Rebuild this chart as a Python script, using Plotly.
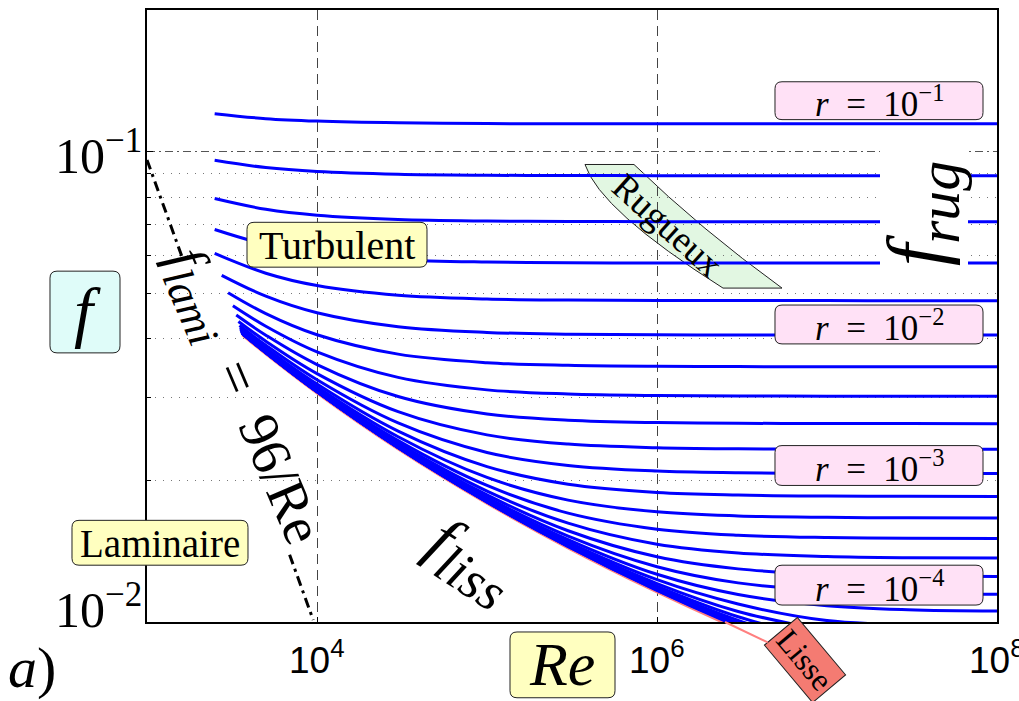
import math
import plotly.graph_objects as go

# ---------------- data ----------------
# relative roughness exponents of the blue family: r = 10**R_EXP
R_EXP = [-1.0, -1.2, -1.4, -1.6, -1.8, -2.0, -2.2, -2.4, -2.6, -2.8, -3.0, -3.2, -3.4,
         -3.6, -3.8, -4.0, -4.2, -4.4, -4.6, -4.8, -5.0, -5.2, -5.4, -5.6, -5.8, -6.0]

# Reynolds grid common to the curves (after each curve's first point)
RE_GRID = [5e3, 1e4, 3e4, 1e5, 3e5, 1e6, 3e6, 1e7, 3e7, 1e8]

# first point of each curve
RE_START = [2500, 2500, 2500, 2500, 2500, 2750, 3000, 3200, 3350, 3450, 3500, 3520, 3540,
            3560, 3580, 3600, 3610, 3620, 3630, 3640, 3645, 3650, 3655, 3660, 3665, 3670]
F_START = [0.1204, 0.09587, 0.07946, 0.06830, 0.06074, 0.05458, 0.05012, 0.04702, 0.04492,
           0.04354, 0.04269, 0.04219, 0.04185, 0.04161, 0.04143, 0.04130, 0.04120, 0.04116,
           0.04110, 0.04106, 0.04104, 0.04102, 0.04100, 0.04098, 0.04097, 0.04095]

# friction factor of each curve on RE_GRID
F_CURVES = [
    [0.1175, 0.1161, 0.1151, 0.1147, 0.1146, 0.1146, 0.1146, 0.1146, 0.1146, 0.1146],
    [0.09247, 0.09069, 0.08949, 0.08906, 0.08894, 0.08889, 0.08888, 0.08888, 0.08888, 0.08888],
    [0.07538, 0.07322, 0.07172, 0.07118, 0.07103, 0.07098, 0.07096, 0.07095, 0.07095, 0.07095],
    [0.06349, 0.06082, 0.05893, 0.05825, 0.05805, 0.05797, 0.05795, 0.05794, 0.05794, 0.05794],
    [0.05513, 0.05190, 0.04950, 0.04861, 0.04835, 0.04825, 0.04823, 0.04822, 0.04821, 0.04821],
    [0.04929, 0.04544, 0.04244, 0.04127, 0.04092, 0.04080, 0.04076, 0.04075, 0.04074, 0.04074],
    [0.04525, 0.04080, 0.03711, 0.03559, 0.03512, 0.03495, 0.03491, 0.03489, 0.03488, 0.03488],
    [0.04253, 0.03752, 0.03311, 0.03115, 0.03053, 0.03030, 0.03023, 0.03021, 0.03020, 0.03020],
    [0.04071, 0.03526, 0.03015, 0.02768, 0.02685, 0.02654, 0.02645, 0.02642, 0.02641, 0.02640],
    [0.03952, 0.03373, 0.02800, 0.02499, 0.02389, 0.02347, 0.02334, 0.02330, 0.02329, 0.02328],
    [0.03875, 0.03272, 0.02649, 0.02293, 0.02152, 0.02094, 0.02077, 0.02070, 0.02069, 0.02068],
    [0.03825, 0.03206, 0.02546, 0.02140, 0.01963, 0.01886, 0.01862, 0.01853, 0.01850, 0.01849],
    [0.03793, 0.03163, 0.02476, 0.02029, 0.01816, 0.01715, 0.01681, 0.01669, 0.01665, 0.01664],
    [0.03774, 0.03136, 0.02430, 0.01951, 0.01704, 0.01575, 0.01529, 0.01512, 0.01507, 0.01505],
    [0.03762, 0.03118, 0.02400, 0.01898, 0.01622, 0.01463, 0.01402, 0.01378, 0.01370, 0.01368],
    [0.03753, 0.03107, 0.02382, 0.01863, 0.01563, 0.01376, 0.01297, 0.01263, 0.01253, 0.01249],
    [0.03748, 0.03100, 0.02370, 0.01840, 0.01523, 0.01311, 0.01211, 0.01165, 0.01151, 0.01145],
    [0.03744, 0.03096, 0.02362, 0.01825, 0.01497, 0.01263, 0.01144, 0.01083, 0.01062, 0.01055],
    [0.03743, 0.03093, 0.02357, 0.01815, 0.01478, 0.01230, 0.01092, 0.01007, 0.00986, 0.00975],
    [0.03741, 0.03092, 0.02354, 0.01810, 0.01467, 0.01207, 0.01053, 0.00959],
    [0.03741, 0.03090, 0.02352, 0.01806, 0.01459, 0.01192, 0.01026, 0.00916],
    [0.03740, 0.03089, 0.02350, 0.01803, 0.01454, 0.01182, 0.01008, 0.00883],
    [0.03740, 0.03089, 0.02350, 0.01802, 0.01452, 0.01176, 0.00995, 0.00859],
    [0.03739, 0.03089, 0.02349, 0.01801, 0.01450, 0.01172, 0.00987, 0.00843],
    [0.03739, 0.03089, 0.02349, 0.01800, 0.01448, 0.01169, 0.00982, 0.00831],
    [0.03739, 0.03088, 0.02349, 0.01800, 0.01448, 0.01167, 0.00978, 0.00823],
]

# smooth pipe curve (f_liss)
RE_LISSE = [3670, 5e3, 1e4, 3e4, 1e5, 3e5, 1e6, 3e6, 1e7]
F_LISSE = [0.04094, 0.03739, 0.03088, 0.02348, 0.01799, 0.01446, 0.01165, 0.00972, 0.00810]

# laminar line f = 96/Re (interrupted where its label sits)
RE_LAMI = [1000, 1600, None, 6900, 9500]
F_LAMI = [0.096, 0.060, None, 0.0139, 0.0101]

# ticks
X_TICKS = [1e4, 1e6, 1e8]
X_TICK_TEXT = ["10<sup>4</sup>", "10<sup>6</sup>", "10<sup>8</sup>"]
Y_TICKS = [0.1, 0.01]
Y_TICK_TEXT = ["10<sup>\u22121</sup>", "10<sup>\u22122</sup>"]
Y_MINOR = [0.02, 0.03, 0.04, 0.05, 0.06, 0.07, 0.08, 0.09]

R_LABELS = ["10<sup>\u22121</sup>", "10<sup>\u22122</sup>", "10<sup>\u22123</sup>", "10<sup>\u22124</sup>"]

# ---------------- figure ----------------
SERIF = "Liberation Serif, Times New Roman, serif"
SANS = "Liberation Sans, Arial, sans-serif"
BLUE = "#0000ff"
SALMON = "#ff7f7f"
YELLOW = "#ffffc0"
PINK = "#ffe1f6"

fig = go.Figure()

fig.add_trace(go.Scatter(x=RE_LISSE, y=F_LISSE, mode="lines",
                         line=dict(color=SALMON, width=5, shape="spline"),
                         showlegend=False, hoverinfo="skip"))

for re0, f0, fs in zip(RE_START, F_START, F_CURVES):
    xs = [re0] + RE_GRID[:len(fs)]
    ys = [f0] + fs
    fig.add_trace(go.Scatter(x=xs, y=ys, mode="lines",
                             line=dict(color=BLUE, width=3, shape="spline"),
                             showlegend=False, hoverinfo="skip"))

fig.add_trace(go.Scatter(x=RE_LAMI, y=F_LAMI, mode="lines", connectgaps=False,
                         line=dict(color="black", width=3, dash="10px,5px,3px,5px"),
                         showlegend=False, hoverinfo="skip"))

L, R, T, B = 147, 22, 8, 79
W, H = 1019, 701
PW, PH = W - L - R, H - T - B


def px(xp):
    return (xp - L) / PW


def py(yp):
    return (H - B - yp) / PH


def P(x, y):
    return f"{px(x):.5f},{py(y):.5f}"


shapes = []
ann = []


def rbox(x0, y0, x1, y1, fill, rad=7, line="#222", layer="above", lw=1):
    path = (f"M {P(x0 + rad, y0)} L {P(x1 - rad, y0)} Q {P(x1, y0)} {P(x1, y0 + rad)} "
            f"L {P(x1, y1 - rad)} Q {P(x1, y1)} {P(x1 - rad, y1)} L {P(x0 + rad, y1)} "
            f"Q {P(x0, y1)} {P(x0, y1 - rad)} L {P(x0, y0 + rad)} Q {P(x0, y0)} {P(x0 + rad, y0)} Z")
    shapes.append(dict(type="path", xref="paper", yref="paper", path=path, fillcolor=fill,
                       line=dict(color=line, width=lw), layer=layer))


def text(t, cx, cy, size, angle=0, family=SERIF, xanchor="center"):
    ann.append(dict(text=t, xref="paper", yref="paper", x=px(cx), y=py(cy),
                    xanchor=xanchor, yanchor="middle", showarrow=False, textangle=angle,
                    font=dict(family=family, size=size, color="black")))


def sub(t, size):
    return f"<sub><span style='font-size:{size}px'><i>{t}</i></span></sub>"


# r labels
for lab, (y0, y1) in zip(R_LABELS, [(80, 118), (304, 343), (445, 485), (565, 605)]):
    rbox(775, y0, 983, y1, PINK)
    text("<i>r</i>\u2002=\u2002" + lab, 879, (y0 + y1) / 2 + 1, 35)

rbox(247, 221, 427, 266, YELLOW)
text("Turbulent", 337, 244, 40)
rbox(72, 520, 248, 565, YELLOW)
text("Laminaire", 160, 543, 39)
rbox(50, 270, 120, 352, "#dffcf9")
text("<i>f</i>", 87, 311, 68)
rbox(510, 632, 615, 698, YELLOW)
text("<i>Re</i>", 562, 664, 62)
text("<i>a</i>)", 32, 668, 58)

# Rugueux band
rug_path = (f"M {P(585, 163)} L {P(634, 163)} Q {P(702, 229)} {P(782, 287)} "
            f"L {P(723, 287)} Q {P(600, 209)} {P(585, 163)} Z")
shapes.append(dict(type="path", xref="paper", yref="paper", path=rug_path,
                   fillcolor="#e2f7e2", line=dict(color="#222", width=1), layer="below"))
text("Rugueux", 668, 224, 37, angle=42)

# f_rug on a white patch
shapes.append(dict(type="rect", xref="paper", yref="paper", x0=px(880), x1=px(968),
                   y0=py(285), y1=py(135), fillcolor="white", line=dict(width=0), layer="above"))
text("<i>f</i>" + sub("rug", 60), 922, 212, 80, angle=-90)

text("<i>f</i>" + sub("lami", 44) + "\u2002=\u200296/Re", 241, 396, 56, angle=67)
text("<i>f</i>" + sub("liss", 54), 470, 562, 66, angle=33)

# Lisse label with its arrow to the smooth curve at the lower edge
ann.append(dict(text="Lisse", xref="x", yref="y", x=6.4, y=-2.0, ax=80, ay=38,
                showarrow=True, arrowhead=0, arrowwidth=2, arrowcolor=SALMON,
                textangle=50, bgcolor="#f47b72", bordercolor="#222", borderwidth=1, borderpad=3,
                font=dict(family=SERIF, size=32, color="black")))

# tick labels
for v, t in zip(X_TICKS, X_TICK_TEXT):
    ann.append(dict(text=t, xref="x", yref="paper", x=math.log10(v), y=py(658),
                    xanchor="center", yanchor="middle", showarrow=False,
                    font=dict(family=SANS, size=37, color="black")))
for v, t, dy in zip(Y_TICKS, Y_TICK_TEXT, [-1, 16]):
    ann.append(dict(text=t, xref="paper", yref="y", x=px(144), y=math.log10(v), yshift=dy,
                    xanchor="right", yanchor="middle", showarrow=False,
                    font=dict(family=SERIF, size=50, color="black")))

fig.update_layout(
    width=W, height=H,
    margin=dict(l=L, r=R, t=T, b=B),
    paper_bgcolor="white", plot_bgcolor="white",
    annotations=ann, shapes=shapes,
    xaxis=dict(type="log", range=[3, 8], tickvals=X_TICKS, showticklabels=False,
               showgrid=True, gridcolor="#444", gridwidth=1, griddash="10px,6px",
               showline=True, linecolor="black", linewidth=2, mirror=True,
               ticks="inside", ticklen=5, tickcolor="black", zeroline=False),
    yaxis=dict(type="log", range=[-2, math.log10(0.2)], tickvals=Y_TICKS, showticklabels=False,
               showgrid=True, gridcolor="#555", gridwidth=1, griddash="8px,4px,2px,4px",
               showline=True, linecolor="black", linewidth=2, mirror=True,
               ticks="inside", ticklen=6, tickcolor="black", zeroline=False,
               minor=dict(tickvals=Y_MINOR, showgrid=True, gridcolor="#777",
                          griddash="1px,7px", ticks="inside", ticklen=4, tickcolor="black")),
)

fig.write_html("out.html", config={"displayModeBar": False},
               post_script="document.body.style.margin='0px';document.body.style.overflow='hidden';")
